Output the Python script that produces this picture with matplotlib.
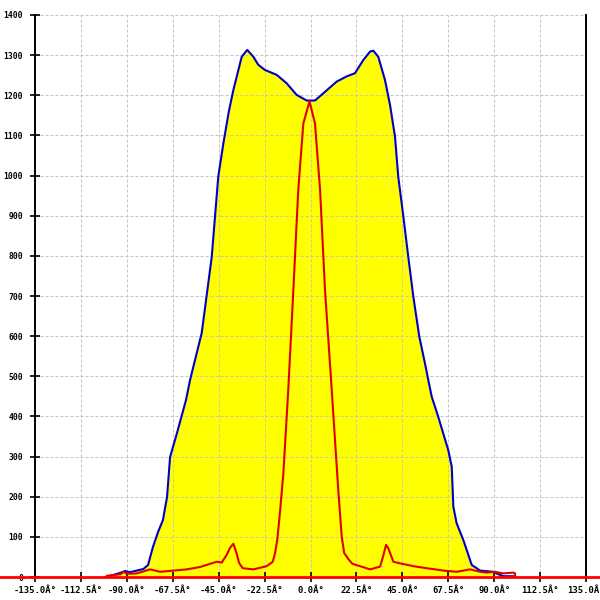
import matplotlib
matplotlib.use('Agg')
import matplotlib.pyplot as plt

# angle (deg) / value pairs
blue_x = [-100.0, -93.4, -90.9, -88.5, -81.9, -79.6, -77.2, -74.7, -72.3, -70.3,
          -68.8, -65.4, -61.0, -59.0, -53.3, -48.4, -45.2, -42.7, -40.0, -37.8,
          -33.7, -31.0, -28.0, -25.6, -22.3, -16.6, -11.7, -6.8, -1.9, 2.2,
          6.3, 12.8, 17.7, 21.8, 25.9, 29.2, 30.8, 33.2, 36.5, 39.0,
          41.4, 43.0, 45.5, 47.9, 50.4, 53.3, 56.1, 57.7, 59.4, 62.6,
          67.5, 69.2, 70.0, 71.6, 74.9, 79.0, 81.4, 83.1, 89.6, 91.2,
          94.5, 99.4, 100.0]
blue_y = [0, 10, 15, 12, 20, 30, 75, 112, 142, 199,
          299, 359, 441, 491, 608, 797, 997, 1080, 1160, 1213,
          1296, 1313, 1296, 1276, 1263, 1251, 1230, 1201, 1187, 1187,
          1205, 1234, 1247, 1255, 1288, 1309, 1311, 1296, 1238, 1175,
          1097, 997, 898, 798, 698, 599, 532, 491, 449, 399,
          316, 275, 175, 134, 92, 30, 22, 16, 13, 9,
          2, 2, 0]

red_x = [-100.0, -99.9, -93.0, -91.7, -90.0, -85.2, -78.6, -73.7, -67.2, -60.7,
         -54.1, -46.0, -43.5, -41.1, -39.5, -37.8, -36.2, -35.0, -33.2, -28.0,
         -21.5, -18.5, -17.4, -16.3, -15.0, -13.3, -10.9, -8.4, -6.0, -3.5,
         -0.5, 2.2, 4.7, 7.1, 10.4, 13.6, 15.3, 16.5, 18.5, 20.5,
         24.3, 29.2, 34.1, 35.5, 37.0, 38.1, 40.6, 43.9, 50.4, 56.9,
         65.1, 71.6, 78.2, 83.1, 86.3, 90.4, 94.5, 99.4, 100.2, 100.3]
red_y = [0, 3, 7, 13, 8, 9, 19, 13, 16, 19,
         25, 38, 36, 55, 72, 83, 59, 35, 22, 19,
         27, 38, 59, 92, 159, 258, 466, 715, 964, 1130,
         1185, 1130, 964, 715, 466, 217, 100, 60, 45, 33,
         27, 19, 26, 50, 80, 72, 38, 34, 27, 22,
         16, 13, 19, 13, 11, 13, 9, 11, 9, 0]

x_ticks = [-135.0, -112.5, -90.0, -67.5, -45.0, -22.5, 0.0, 22.5, 45.0, 67.5, 90.0, 112.5, 135.0]
y_ticks = list(range(0, 1500, 100))

fig = plt.figure(figsize=(6, 6), dpi=100)
ax = fig.add_axes([0.0583, 0.0383, 0.9184, 0.9367])

ax.fill_between(blue_x, blue_y, 0, color='#ffff00', linewidth=0, zorder=1)
ax.plot(blue_x, blue_y, color='#0000c8', linewidth=1.5, zorder=3, solid_joinstyle='round')
ax.plot(red_x, red_y, color='#e00000', linewidth=1.5, zorder=4, solid_joinstyle='round')

# red baseline running across the whole picture
ax.axhline(0, xmin=-0.07, xmax=1.04, color='#ff0000', linewidth=2.0, clip_on=False, zorder=5)

ax.set_xlim(-135, 135)
ax.set_ylim(0, 1400)
ax.set_xticks(x_ticks)
ax.set_xticklabels([f'{v:.1f}Â°' for v in x_ticks])
ax.set_yticks(y_ticks)
ax.set_yticklabels([str(v) for v in y_ticks])

# grid
for v in x_ticks[1:-1]:
    ax.axvline(v, color='#c4c4c4', linewidth=0.72, linestyle=(0, (3, 2)), zorder=1.5)
for v in y_ticks[1:]:
    ax.axhline(v, color='#c4c4c4', linewidth=0.72, linestyle=(0, (3, 2)), zorder=1.5)

for s in ['top', 'bottom']:
    ax.spines[s].set_visible(False)
for s in ['left', 'right']:
    ax.spines[s].set_linewidth(1.4)
    ax.spines[s].set_color('black')

ax.tick_params(axis='y', direction='inout', length=7, width=1.2, pad=5, labelsize=5.8)
ax.tick_params(axis='x', direction='inout', length=7, width=1.2, pad=3, labelsize=6.4)
for lab in ax.get_xticklabels() + ax.get_yticklabels():
    lab.set_family('DejaVu Sans Mono')
    lab.set_fontweight('bold')

fig.savefig('out.png', dpi=100)
